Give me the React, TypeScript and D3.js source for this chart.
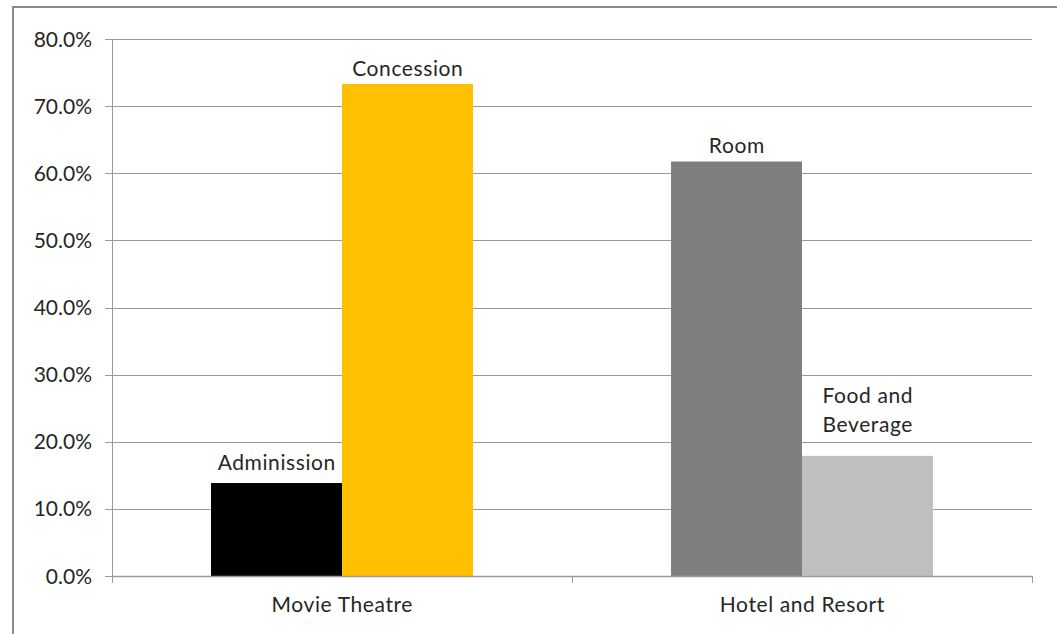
import React from "react";
import * as d3 from "d3";

const categories = ["Movie Theatre", "Hotel and Resort"];
const barNames = ["Adminission", "Concession", "Room", "Food and Beverage"];
const barCategory = ["Movie Theatre", "Movie Theatre", "Hotel and Resort", "Hotel and Resort"];
const barSlot = ["0", "1", "0", "1"];
const barValues = [0.1385, 0.733, 0.6175, 0.179];
const barColors = ["#000000", "#FFC000", "#7F7F7F", "#BFBFBF"];
const labelLift = [13, 8, 9, 24];
const yTicks = [0, 0.1, 0.2, 0.3, 0.4, 0.5, 0.6, 0.7, 0.8];

const W = 1057;
const H = 634;
const FONT = "Lato, 'Open Sans', sans-serif";
const TEXT = "#262626";
const GRID = "#9a9a9a";

export default function App() {
  const x = d3.scaleBand<string>().domain(categories).range([112, 1032]).padding(0);
  const x1 = d3.scaleBand<string>().domain(["0", "1"]).range([0, x.bandwidth()]).paddingInner(0).paddingOuter(0.756);
  const y = d3.scaleLinear().domain([0, 0.8]).range([576, 39]);
  const fmt = d3.format(".1%");

  return (
    <svg width={W} height={H} style={{ position: "absolute", left: 0, top: 0, background: "#fff" }} fontFamily={FONT}>
      <rect x={0} y={0} width={W} height={H} fill="#fff" />
      {/* outer chart border */}
      <path d={`M13,${H + 2} L13,7 L${W + 2},7`} fill="none" stroke="#8a8a8a" strokeWidth={2} />
      {/* gridlines */}
      {yTicks.map((t) => (
        <line key={"g" + t} x1={105} x2={1032} y1={Math.round(y(t)) + 0.5} y2={Math.round(y(t)) + 0.5} stroke={GRID} strokeWidth={1} />
      ))}
      {yTicks.map((t) => (
        <text key={"t" + t} x={92} y={y(t)} dy="0.36em" textAnchor="end" fontSize={21} fill={TEXT}>
          {fmt(t)}
        </text>
      ))}
      {/* bars */}
      {barValues.map((v, i) => {
        const bx = (x(barCategory[i]) ?? 0) + (x1(barSlot[i]) ?? 0);
        return <rect key={"b" + i} x={bx} y={y(v)} width={x1.bandwidth()} height={y(0) - y(v)} fill={barColors[i]} />;
      })}
      {/* y axis line */}
      <line x1={112.5} x2={112.5} y1={39} y2={583} stroke={GRID} strokeWidth={1} />
      {/* x axis line */}
      <line x1={112} x2={1032} y1={576.5} y2={576.5} stroke={GRID} strokeWidth={1.5} />
      {[...categories.map((c) => x(c) ?? 0), 1032].map((px, i) => (
        <line key={"xt" + i} x1={Math.round(px) + 0.5} x2={Math.round(px) + 0.5} y1={576} y2={583} stroke={GRID} strokeWidth={1} />
      ))}
      {categories.map((c) => (
        <text key={"c" + c} x={(x(c) ?? 0) + x.bandwidth() / 2 + 0.3} y={612} textAnchor="middle" fontSize={21} letterSpacing={0.6} fill={TEXT}>
          {c}
        </text>
      ))}
      {/* data labels */}
      {barValues.map((v, i) => {
        const cx = (x(barCategory[i]) ?? 0) + (x1(barSlot[i]) ?? 0) + x1.bandwidth() / 2 + 0.3;
        const words = barNames[i] === "Food and Beverage" ? ["Food and", "Beverage"] : [barNames[i]];
        const base = y(v) - labelLift[i];
        return (
          <text key={"l" + i} x={cx} textAnchor="middle" fontSize={21} letterSpacing={0.6} fill={TEXT}>
            {words.map((w, k) => (
              <tspan key={k} x={cx} y={base - (words.length - 1 - k) * 29}>
                {w}
              </tspan>
            ))}
          </text>
        );
      })}
    </svg>
  );
}
